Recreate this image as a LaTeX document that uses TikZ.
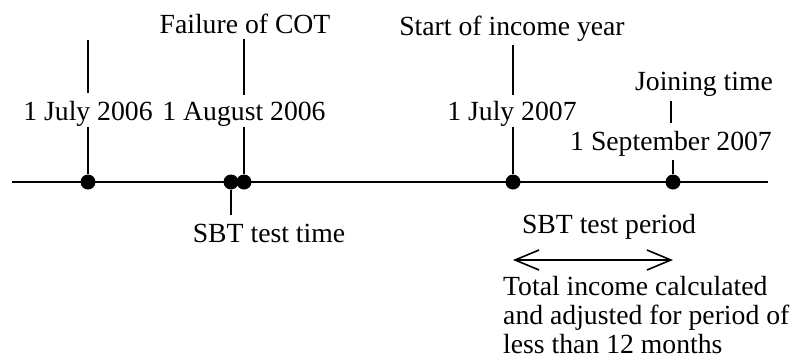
\documentclass[tikz,border=0pt]{standalone}
\usepackage{fontspec}
\setmainfont{Liberation Serif}
\usetikzlibrary{arrows.meta,calc}
\begin{document}
\begin{tikzpicture}[x=1pt,y=-1pt,
  lbl/.style={inner sep=0pt, font=\fontsize{27.7}{29}\selectfont, anchor=base},
  dot/.style={circle, fill=black, inner sep=0pt, minimum size=15pt},
  ln/.style={line width=1.6pt}]
\useasboundingbox (0,0) rectangle (798,360);

% time line
\coordinate (L) at (12,182);
\coordinate (R) at (768,182);
\draw[ln] (L) -- (R);

% events on the line
\node[dot] (d1) at (88,182) {};
\node[dot] (d2) at (231,182) {};
\node[dot] (d3) at (244,182) {};
\node[dot] (d4) at (513,182) {};
\node[dot] (d5) at (673,182) {};

% labels above the line
\node[lbl] (jul06) at (88,120) {1 July 2006};
\node[lbl] (cot) at (245,33) {Failure of COT};
\node[lbl] (aug06) at (244,120) {1 August 2006};
\node[lbl] (start) at (512,35) {Start of income year};
\node[lbl] (jul07) at (512,120) {1 July 2007};
\node[lbl] (join) at (704,90) {Joining time};
\node[lbl] (sep07) at (671,150) {1 September 2007};

% labels below the line
\node[lbl] (sbt) at (269,242) {SBT test time};
\node[lbl] (period) at (609,233) {SBT test period};
\node[lbl, anchor=base west, align=left] (total) at (503,353)
  {Total income calculated\\and adjusted for period of\\less than 12 months};

% leader lines (y grows downwards: negative offsets go up)
\coordinate (t1) at (88,40);
\draw[ln] (t1) -- ($(jul06.north -| t1)+(0,-8)$);
\draw[ln] ($(jul06.south -| d1)+(0,1)$) -- (d1);

\draw[ln] ($(cot.south -| d3)+(0,6)$) -- ($(aug06.north -| d3)+(0,-6)$);
\draw[ln] ($(aug06.south -| d3)+(0,1)$) -- (d3);

\draw[ln] ($(start.south -| d4)+(0,4)$) -- ($(jul07.north -| d4)+(0,-6)$);
\draw[ln] ($(jul07.south -| d4)+(0,1)$) -- (d4);

\coordinate (jx) at (671,0);
\draw[ln] ($(join.south -| jx)+(0,5)$) -- ($(sep07.north -| jx)+(0,-8)$);
\draw[ln] ($(sep07.south -| d5)+(0,4)$) -- (d5);

\draw[ln] (d2) -- ($(sbt.north -| d2)+(0,-8)$);

% test period arrow
\coordinate (a1) at (d4 |- 0,260);
\coordinate (a2) at (d5 |- 0,260);
\draw[ln, {Straight Barb[length=24pt,width=20pt]}-{Straight Barb[length=24pt,width=20pt]}] (a1) -- (a2);
\end{tikzpicture}
\end{document}
